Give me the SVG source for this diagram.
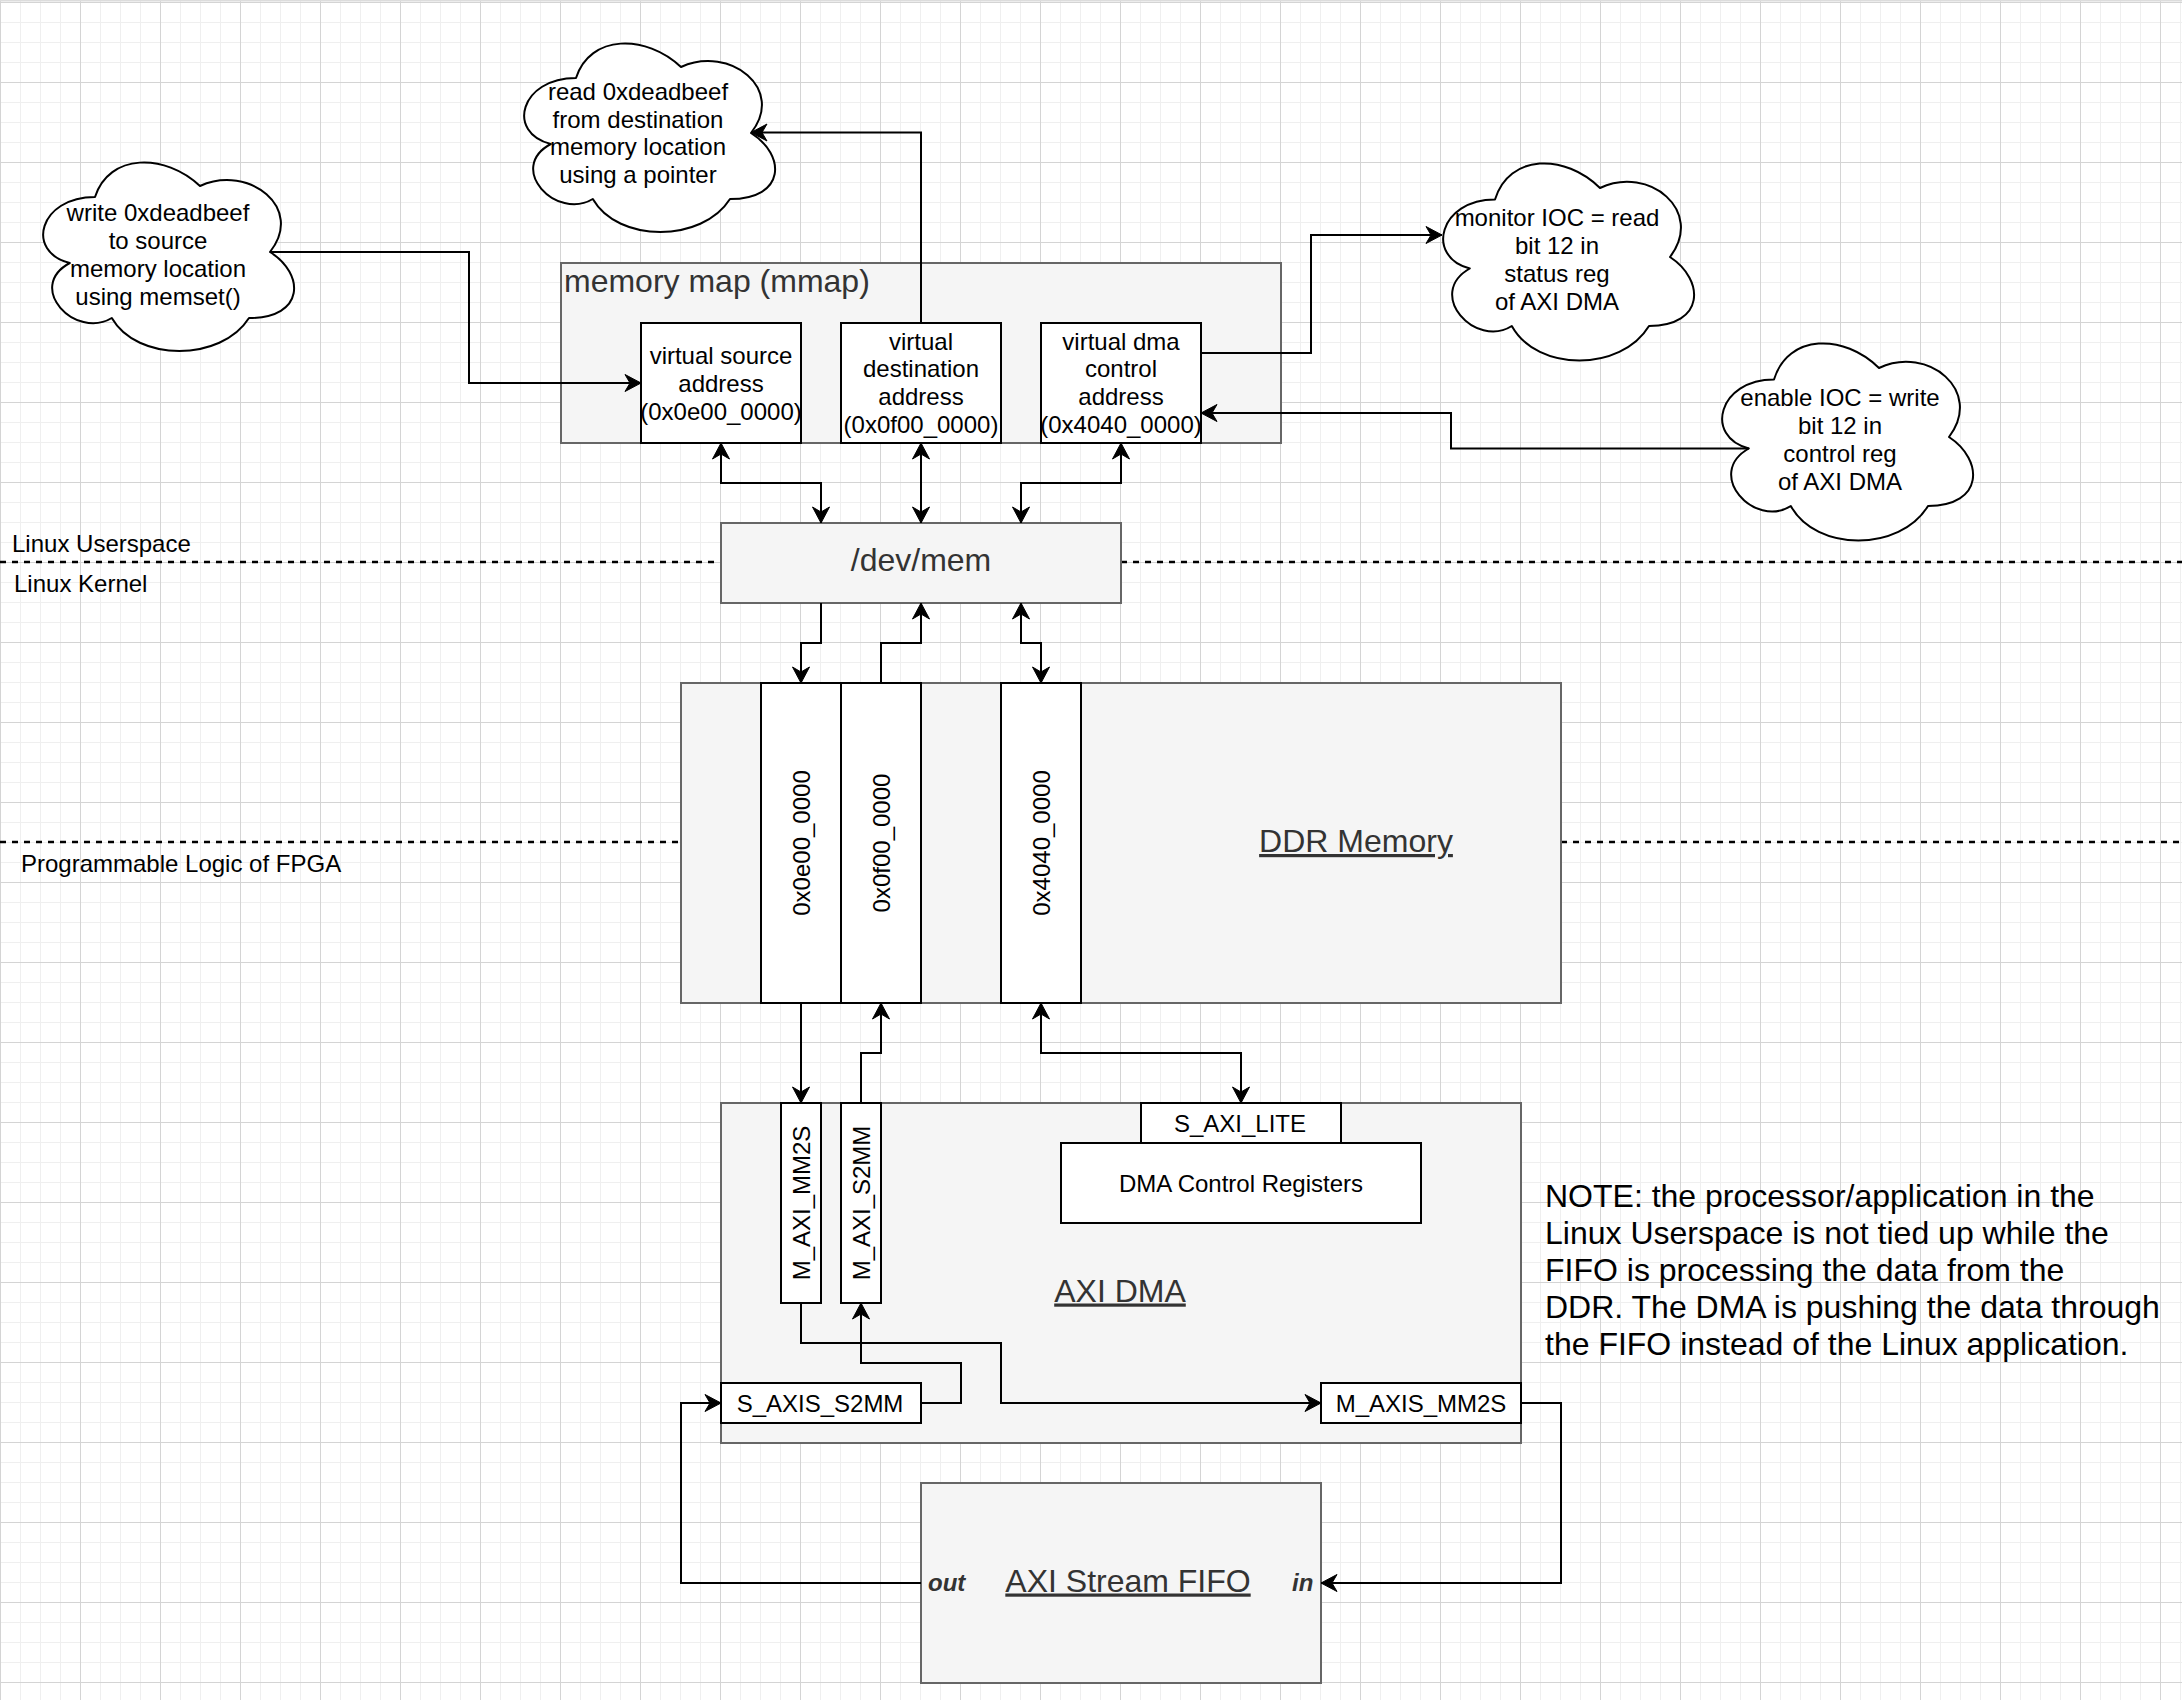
<svg xmlns="http://www.w3.org/2000/svg" width="2182" height="1700" viewBox="0 0 2182 1700">
<style>
.t{font-family:"Liberation Sans",Arial,Helvetica,sans-serif;font-size:24px;fill:#000;text-anchor:middle}
.l{text-anchor:start}
.big{font-size:32px;fill:#333}
.u{text-decoration:underline}
.note{font-family:"Liberation Sans",Arial,Helvetica,sans-serif;font-size:32px;fill:#000}
.port{font-weight:bold;font-style:italic;fill:#333}
.cont{fill:#f5f5f5;stroke:#666;stroke-width:2}
.box{fill:#fff;stroke:#000;stroke-width:2}
.cloud{fill:#fff;stroke:#000;stroke-width:2;stroke-linejoin:round}
.dash{stroke:#000;stroke-width:2.5;stroke-dasharray:6 6;fill:none}
.c{fill:none;stroke:#000;stroke-width:2}
.e{marker-end:url(#arr)}
.b{marker-start:url(#arr);marker-end:url(#arr)}
</style>
<defs>
<pattern id="grid" x="0" y="2" width="80" height="80" patternUnits="userSpaceOnUse">
<rect x="0" y="0" width="80" height="80" fill="#fff"/>
<rect x="20" y="0" width="1" height="80" fill="#efefef"/>
<rect x="40" y="0" width="1" height="80" fill="#efefef"/>
<rect x="60" y="0" width="1" height="80" fill="#efefef"/>
<rect x="0" y="20" width="80" height="1" fill="#efefef"/>
<rect x="0" y="40" width="80" height="1" fill="#efefef"/>
<rect x="0" y="60" width="80" height="1" fill="#efefef"/>
<rect x="0" y="0" width="1" height="80" fill="#d4d4d4"/>
<rect x="0" y="0" width="80" height="1" fill="#d4d4d4"/>
</pattern>
<marker id="arr" viewBox="-17 -10 18 20" refX="0" refY="0" markerWidth="18" markerHeight="20" markerUnits="userSpaceOnUse" orient="auto-start-reverse">
<path d="M0,0 L-16,-8.5 L-11,0 L-16,8.5 Z" fill="#000" stroke="#000" stroke-width="1" stroke-linejoin="miter"/>
</marker>
</defs>

<rect x="0" y="0" width="2182" height="1700" fill="url(#grid)"/>
<rect x="0" y="0" width="2182" height="1.5" fill="#dcdcdc"/>

<g id="dividers">
<line class="dash" x1="0" y1="562" x2="721" y2="562"/>
<line class="dash" x1="1121" y1="562" x2="2182" y2="562"/>
<line class="dash" x1="0" y1="842" x2="681" y2="842"/>
<line class="dash" x1="1561" y1="842" x2="2182" y2="842"/>
<text class="t l" x="12" y="552">Linux Userspace</text>
<text class="t l" x="14" y="592">Linux Kernel</text>
<text class="t l" x="21" y="872">Programmable Logic of FPGA</text>
</g>

<g id="cloud-write">
<path class="cloud" d="M95,197 C39,197 25,252 69.8,263 C25,287.2 75.4,340 111.8,318 C137,362 221,362 249,318 C305,318 305,274 270,252 C305,208 249,164 200,186 C165,153 109,153 95,197 Z"/>
<text class="t" x="158" y="221">write 0xdeadbeef</text>
<text class="t" x="158" y="249">to source</text>
<text class="t" x="158" y="277">memory location</text>
<text class="t" x="158" y="305">using memset()</text>
</g>

<g id="cloud-read">
<path class="cloud" d="M576,78 C520,78 506,133 550.8,144 C506,168.2 556.4,221 592.8,199 C618,243 702,243 730,199 C786,199 786,155 751,133 C786,89 730,45 681,67 C646,34 590,34 576,78 Z"/>
<text class="t" x="638" y="100">read 0xdeadbeef</text>
<text class="t" x="638" y="127.5">from destination</text>
<text class="t" x="638" y="155">memory location</text>
<text class="t" x="638" y="182.5">using a pointer</text>
</g>

<g id="cloud-monitor">
<path class="cloud" d="M1495,199.5 C1439,199.5 1425,257 1469.8,268.5 C1425,293.8 1475.4,349 1511.8,326 C1537,372 1621,372 1649,326 C1705,326 1705,280 1670,257 C1705,211 1649,165 1600,188 C1565,153.5 1509,153.5 1495,199.5 Z"/>
<text class="t" x="1557" y="226">monitor IOC = read</text>
<text class="t" x="1557" y="254">bit 12 in</text>
<text class="t" x="1557" y="282">status reg</text>
<text class="t" x="1557" y="310">of AXI DMA</text>
</g>

<g id="cloud-enable">
<path class="cloud" d="M1774,379.5 C1718,379.5 1704,437 1748.8,448.5 C1704,473.8 1754.4,529 1790.8,506 C1816,552 1900,552 1928,506 C1984,506 1984,460 1949,437 C1984,391 1928,345 1879,368 C1844,333.5 1788,333.5 1774,379.5 Z"/>
<text class="t" x="1840" y="406">enable IOC = write</text>
<text class="t" x="1840" y="434">bit 12 in</text>
<text class="t" x="1840" y="462">control reg</text>
<text class="t" x="1840" y="490">of AXI DMA</text>
</g>

<g id="memory-map">
<rect class="cont" x="561" y="263" width="720" height="180"/>
<text class="t l big" x="564" y="292">memory map (mmap)</text>
</g>

<g id="virtual-source">
<rect class="box" x="641" y="323" width="160" height="120"/>
<text class="t" x="721" y="363.5">virtual source</text>
<text class="t" x="721" y="391.5">address</text>
<text class="t" x="721" y="419.5">(0x0e00_0000)</text>
</g>

<g id="virtual-destination">
<rect class="box" x="841" y="323" width="160" height="120"/>
<text class="t" x="921" y="349.5">virtual</text>
<text class="t" x="921" y="377.3">destination</text>
<text class="t" x="921" y="405">address</text>
<text class="t" x="921" y="433">(0x0f00_0000)</text>
</g>

<g id="virtual-dma">
<rect class="box" x="1041" y="323" width="160" height="120"/>
<text class="t" x="1121" y="349.5">virtual dma</text>
<text class="t" x="1121" y="377.3">control</text>
<text class="t" x="1121" y="405">address</text>
<text class="t" x="1121" y="433">(0x4040_0000)</text>
</g>

<g id="dev-mem">
<rect class="cont" x="721" y="523" width="400" height="80"/>
<text class="t big" x="921" y="571">/dev/mem</text>
</g>

<g id="ddr-memory">
<rect class="cont" x="681" y="683" width="880" height="320"/>
<text class="t big u" x="1356" y="852">DDR Memory</text>
</g>

<g id="ddr-0x0e00">
<rect class="box" x="761" y="683" width="80" height="320"/>
<text class="t" transform="translate(809.6,843) rotate(-90)" x="0" y="0">0x0e00_0000</text>
</g>

<g id="ddr-0x0f00">
<rect class="box" x="841" y="683" width="80" height="320"/>
<text class="t" transform="translate(889.6,843) rotate(-90)" x="0" y="0">0x0f00_0000</text>
</g>

<g id="ddr-0x4040">
<rect class="box" x="1001" y="683" width="80" height="320"/>
<text class="t" transform="translate(1049.6,843) rotate(-90)" x="0" y="0">0x4040_0000</text>
</g>

<g id="axi-dma">
<rect class="cont" x="721" y="1103" width="800" height="340"/>
<text class="t big u" x="1120" y="1301.5">AXI DMA</text>
</g>

<g id="m-axi-mm2s">
<rect class="box" x="781" y="1103" width="40" height="200"/>
<text class="t" transform="translate(809.6,1203) rotate(-90)" x="0" y="0">M_AXI_MM2S</text>
</g>

<g id="m-axi-s2mm">
<rect class="box" x="841" y="1103" width="40" height="200"/>
<text class="t" transform="translate(869.6,1203) rotate(-90)" x="0" y="0">M_AXI_S2MM</text>
</g>

<g id="s-axi-lite">
<rect class="box" x="1141" y="1103" width="200" height="40"/>
<text class="t" x="1240" y="1131.5">S_AXI_LITE</text>
</g>

<g id="dma-control-registers">
<rect class="box" x="1061" y="1143" width="360" height="80"/>
<text class="t" x="1241" y="1191.5">DMA Control Registers</text>
</g>

<g id="s-axis-s2mm">
<rect class="box" x="721" y="1383" width="200" height="40"/>
<text class="t" x="820" y="1411.5">S_AXIS_S2MM</text>
</g>

<g id="m-axis-mm2s">
<rect class="box" x="1321" y="1383" width="200" height="40"/>
<text class="t" x="1421" y="1411.5">M_AXIS_MM2S</text>
</g>

<g id="axi-stream-fifo">
<rect class="cont" x="921" y="1483" width="400" height="200"/>
<text class="t big u" x="1128" y="1591.5">AXI Stream FIFO</text>
<text class="t l port" x="928" y="1591">out</text>
<text class="t l port" x="1292" y="1591">in</text>
</g>

<g id="note">
<text class="note" x="1545" y="1207">NOTE: the processor/application in the</text>
<text class="note" x="1545" y="1244">Linux Userspace is not tied up while the</text>
<text class="note" x="1545" y="1281">FIFO is processing the data from the</text>
<text class="note" x="1545" y="1318">DDR. The DMA is pushing the data through</text>
<text class="note" x="1545" y="1355">the FIFO instead of the Linux application.</text>
</g>

<g id="connectors">
<path class="c e" d="M270,252 H469 V383 H641"/>
<path class="c e" d="M921,323 V132.5 H751"/>
<path class="c e" d="M1201,353 H1311 V235 H1442"/>
<path class="c e" d="M1749,448.5 H1451 V413 H1201"/>
<path class="c b" d="M721,443 V483 H821 V523"/>
<path class="c b" d="M921,443 V523"/>
<path class="c b" d="M1121,443 V483 H1021 V523"/>
<path class="c e" d="M821,603 V643 H801 V683"/>
<path class="c e" d="M881,683 V643 H921 V603"/>
<path class="c b" d="M1021,603 V643 H1041 V683"/>
<path class="c e" d="M801,1003 V1103"/>
<path class="c e" d="M861,1103 V1053 H881 V1003"/>
<path class="c b" d="M1041,1003 V1053 H1241 V1103"/>
<path class="c e" d="M801,1303 V1343 H1001 V1403 H1321"/>
<path class="c e" d="M921,1403 H961 V1363 H861 V1303"/>
<path class="c e" d="M1521,1403 H1561 V1583 H1321"/>
<path class="c e" d="M921,1583 H681 V1403 H721"/>
</g>
</svg>
